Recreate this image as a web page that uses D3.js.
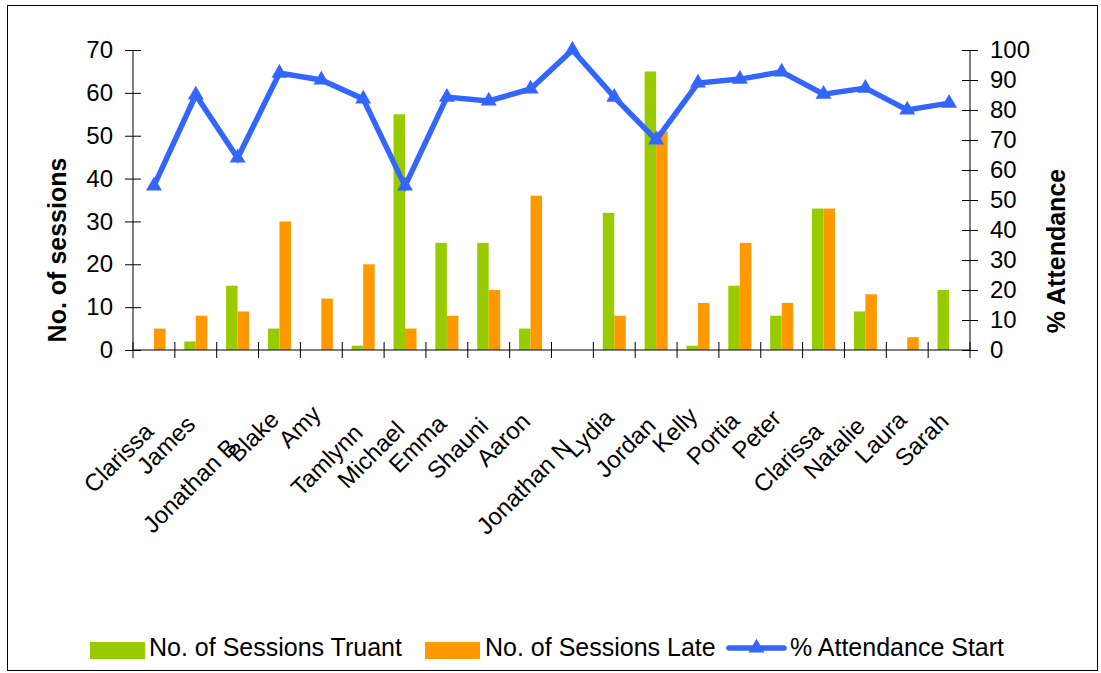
<!DOCTYPE html>
<html>
<head>
<meta charset="utf-8">
<script src="https://cdn.jsdelivr.net/npm/d3@7"></script>
<style>
  html, body { margin: 0; padding: 0; background: #fff; }
  svg { display: block; font-family: "Liberation Sans", Arial, sans-serif; }
</style>
</head>
<body>
<svg id="chart" width="1101" height="673"></svg>
<script>
// Pupil names along the category axis
const categories = ["Clarissa", "James", "Jonathan B", "Blake", "Amy", "Tamlynn", "Michael",
  "Emma", "Shauni", "Aaron", "Jonathan N", "Lydia", "Jordan", "Kelly", "Portia", "Peter",
  "Clarissa", "Natalie", "Laura", "Sarah"];

// Sessions counts (left axis)
const truant = [0, 2, 15, 5, 0, 1, 55, 25, 25, 5, 0, 32, 65, 1, 15, 8, 33, 9, 0, 14];
const late   = [5, 8, 9, 30, 12, 20, 5, 8, 14, 36, 0, 8, 51, 11, 25, 11, 33, 13, 3, 0];

// Attendance percentage (right axis)
const attendance = [54.7, 85, 64, 92.3, 90, 83.7, 54.7, 84.3, 83, 87, 100, 84.3, 70, 89,
  90.3, 92.7, 85.3, 87.3, 80, 82.3];

const leftTicks = [0, 10, 20, 30, 40, 50, 60, 70];
const rightTicks = [0, 10, 20, 30, 40, 50, 60, 70, 80, 90, 100];

const seriesNames = ["No. of Sessions Truant", "No. of Sessions Late", "% Attendance Start"];
const colors = { truant: "#99CC00", late: "#FF9900", line: "#3366FF" };

const svg = d3.select("#chart");
const plot = { left: 133, right: 970, top: 50, bottom: 350 };

// outer chart frame
svg.append("rect")
  .attr("x", 7.5).attr("y", 5.5)
  .attr("width", 1090).attr("height", 665)
  .attr("fill", "none").attr("stroke", "#000").attr("stroke-width", 1);

const idx = categories.map((_, i) => i);
const x0 = d3.scaleBand().domain(idx).range([plot.left, plot.right]).paddingInner(0.45).paddingOuter(0.225);
const xc = d3.scaleBand().domain(idx).range([plot.left, plot.right]);
const x1 = d3.scaleBand().domain(["truant", "late"]).range([0, x0.bandwidth()]);
const yL = d3.scaleLinear().domain([0, 70]).range([plot.bottom, plot.top]);
const yR = d3.scaleLinear().domain([0, 100]).range([plot.bottom, plot.top]);

// bars
const groups = svg.append("g").selectAll("g")
  .data(idx).join("g")
  .attr("transform", i => `translate(${x0(i)},0)`);

groups.append("rect")
  .attr("x", x1("truant")).attr("width", x1.bandwidth())
  .attr("y", i => yL(truant[i])).attr("height", i => yL(0) - yL(truant[i]))
  .attr("fill", colors.truant);

groups.append("rect")
  .attr("x", x1("late")).attr("width", x1.bandwidth())
  .attr("y", i => yL(late[i])).attr("height", i => yL(0) - yL(late[i]))
  .attr("fill", colors.late);

// left axis
const axL = svg.append("g")
  .attr("transform", `translate(${plot.left},0)`)
  .call(d3.axisLeft(yL).tickValues(leftTicks).tickSize(8).tickPadding(12));
axL.select(".domain").attr("stroke", "#000").attr("d", `M0,${plot.top}V${plot.bottom}`);
axL.selectAll(".tick line").attr("x1", 8).attr("x2", -8).attr("stroke", "#000");
axL.selectAll(".tick text").attr("font-size", 24).attr("fill", "#000")
  .attr("font-family", "Liberation Sans, Arial, sans-serif");

// right axis
const axR = svg.append("g")
  .attr("transform", `translate(${plot.right},0)`)
  .call(d3.axisRight(yR).tickValues(rightTicks).tickSize(8).tickPadding(12));
axR.select(".domain").attr("stroke", "#000").attr("d", `M0,${plot.top}V${plot.bottom}`);
axR.selectAll(".tick line").attr("x1", -8).attr("x2", 8).attr("stroke", "#000");
axR.selectAll(".tick text").attr("font-size", 24).attr("fill", "#000")
  .attr("font-family", "Liberation Sans, Arial, sans-serif");

// category axis: line, boundary ticks, rotated labels
const axB = svg.append("g");
axB.append("line")
  .attr("x1", plot.left).attr("x2", plot.right)
  .attr("y1", plot.bottom).attr("y2", plot.bottom)
  .attr("stroke", "#000");
axB.selectAll("line.tick")
  .data(d3.range(categories.length + 1)).join("line")
  .attr("class", "tick")
  .attr("x1", i => plot.left + i * xc.step()).attr("x2", i => plot.left + i * xc.step())
  .attr("y1", plot.bottom - 8).attr("y2", plot.bottom + 8)
  .attr("stroke", "#000");

const labels = axB.selectAll("text")
  .data(idx).join("text")
  .attr("font-size", 24).attr("fill", "#000")
  .attr("text-anchor", "end")
  .text(i => categories[i]);
labels.each(function(i) {
  const L = this.getComputedTextLength();
  const cx = xc(i) + xc.bandwidth() / 2 + 1;
  const cy = 394 + 0.45 * L;
  d3.select(this).attr("transform", `translate(${cx},${cy}) rotate(-45)`);
});

// attendance line with triangle markers
const line = d3.line()
  .x(i => xc(i) + xc.bandwidth() / 2)
  .y(i => yR(attendance[i]));
svg.append("path")
  .datum(idx)
  .attr("d", line)
  .attr("fill", "none")
  .attr("stroke", colors.line)
  .attr("stroke-width", 5.5)
  .attr("stroke-linejoin", "miter");

const tri = d3.symbol().type(d3.symbolTriangle).size(110);
svg.append("g").selectAll("path")
  .data(idx).join("path")
  .attr("d", tri)
  .attr("transform", i => `translate(${xc(i) + xc.bandwidth() / 2},${yR(attendance[i])})`)
  .attr("fill", colors.line);

// axis titles
svg.append("text")
  .attr("transform", "translate(66,250) rotate(-90)")
  .attr("text-anchor", "middle")
  .attr("font-size", 25).attr("font-weight", "bold")
  .text("No. of sessions");
svg.append("text")
  .attr("transform", "translate(1065,251) rotate(-90)")
  .attr("text-anchor", "middle")
  .attr("font-size", 25).attr("font-weight", "bold")
  .text("% Attendance");

// legend
const legend = svg.append("g");
legend.append("rect").attr("x", 90).attr("y", 642).attr("width", 55).attr("height", 17).attr("fill", colors.truant);
legend.append("text").attr("x", 149).attr("y", 656).attr("font-size", 25).text(seriesNames[0]);
legend.append("rect").attr("x", 425).attr("y", 642).attr("width", 55).attr("height", 17).attr("fill", colors.late);
legend.append("text").attr("x", 485).attr("y", 656).attr("font-size", 25).text(seriesNames[1]);
legend.append("line").attr("x1", 729).attr("x2", 784).attr("y1", 648).attr("y2", 648)
  .attr("stroke", colors.line).attr("stroke-width", 5.5).attr("stroke-linecap", "round");
legend.append("path").attr("d", tri).attr("transform", "translate(756.5,648)").attr("fill", colors.line);
legend.append("text").attr("x", 790).attr("y", 656).attr("font-size", 25).text(seriesNames[2]);
</script>
</body>
</html>
